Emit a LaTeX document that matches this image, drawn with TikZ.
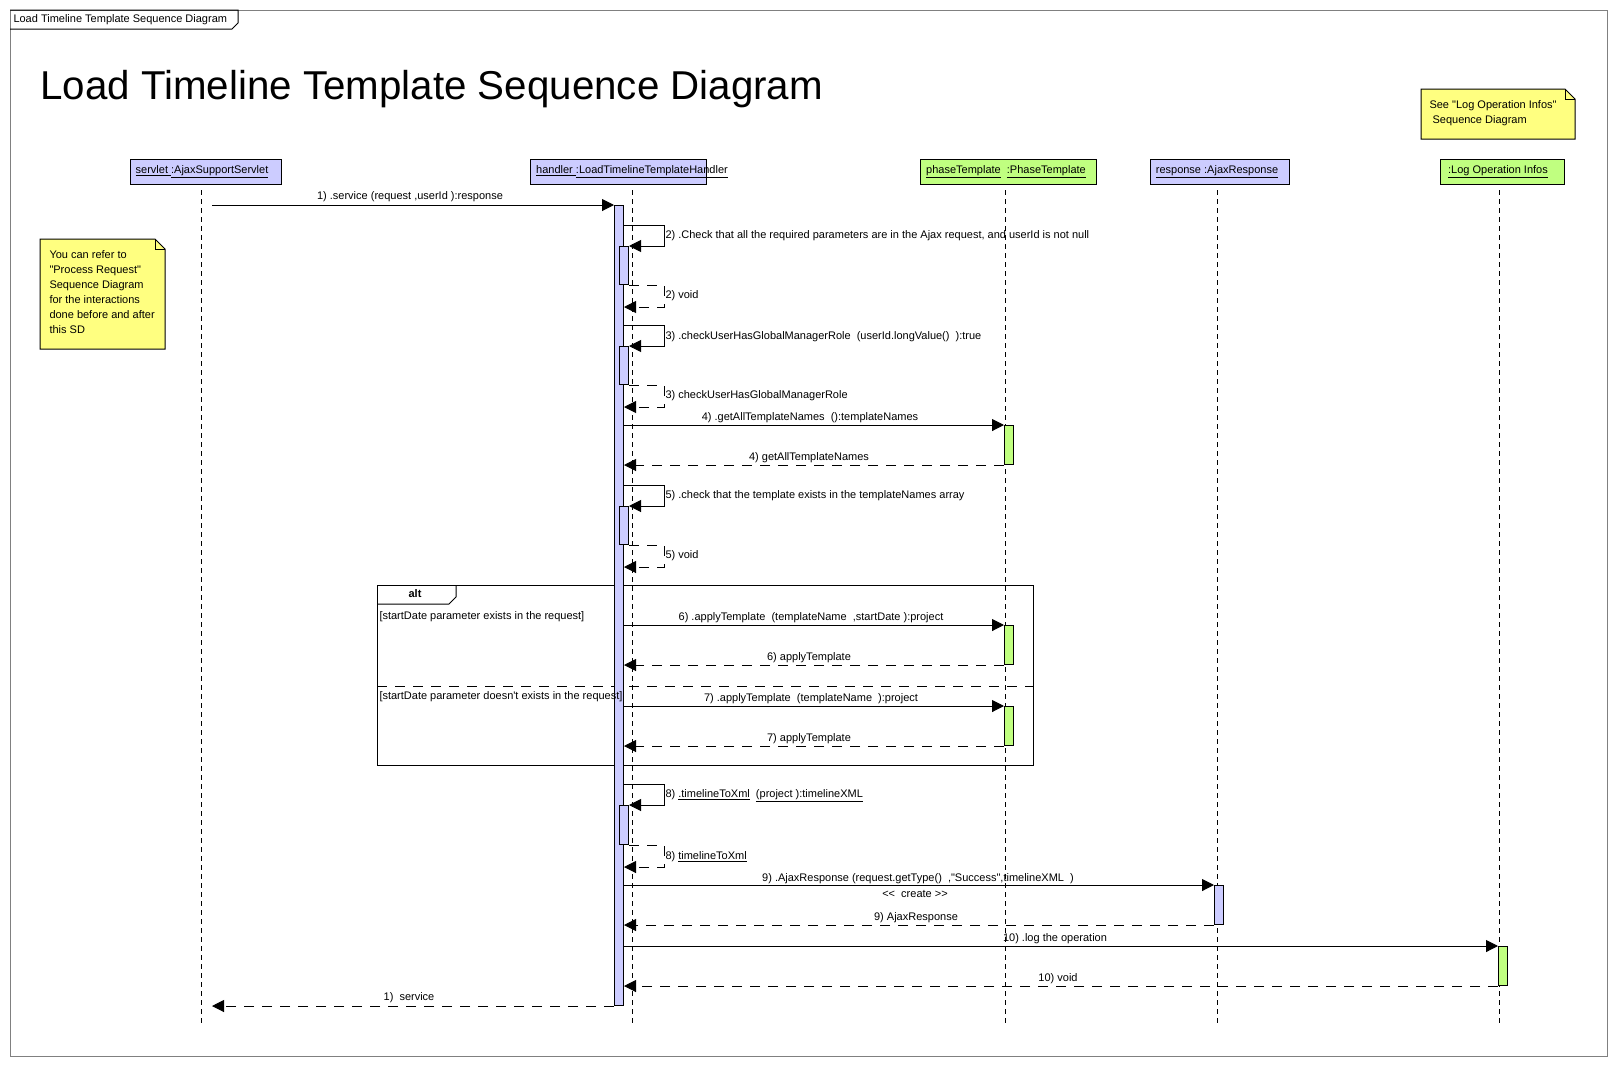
\documentclass[tikz,border=0pt]{standalone}
\usepackage{fontspec}
\newfontfamily\lab{Liberation Sans}
\usetikzlibrary{arrows.meta,calc}
\definecolor{lav}{HTML}{CCCCFF}
\definecolor{lgreen}{HTML}{C0FF80}
\definecolor{noteyel}{HTML}{FFFF80}
\definecolor{framegray}{HTML}{808080}
\begin{document}
\begin{tikzpicture}[x=1pt,y=-1pt,line width=1pt,
  txt/.style={font=\lab\fontsize{11}{13}\selectfont, inner sep=0pt},
  lwest/.style={txt, anchor=west},
  lifeline/.style={draw=black, line width=1pt, dash pattern=on 5pt off 4pt},
  msg/.style={draw=black, line width=1pt, -{Triangle[length=12pt,width=12pt]}},
  ret/.style={msg, dash pattern=on 10pt off 8pt},
  bar/.style={draw=black, line width=1pt, minimum width=9pt, inner sep=0pt, anchor=north west},
  hdr/.style={draw=black, line width=1pt, inner sep=0pt, anchor=north west, minimum height=25pt},
  note/.style={draw=black, fill=noteyel, line width=1pt},
]
\useasboundingbox (0,0) rectangle (1616,1066);
% frame
\draw[framegray] (10,10) rectangle (1607,1056);
\draw[black] (10,10) -- (238,10) -- (238,23) -- (232,29) -- (10,29);
\node[lwest] (frametab) at (13,20) {Load Timeline Template Sequence Diagram};
\node[font=\lab\fontsize{40.3}{46}\selectfont, anchor=base west, inner sep=0pt] (title) at (40,99) {Load Timeline Template Sequence Diagram};

% headers
\node[hdr, fill=lav, minimum width=151pt] (servletbox) at (130,159) {};
\node[hdr, fill=lav, minimum width=176pt] (handlerbox) at (530,159) {};
\node[hdr, fill=lgreen, minimum width=176pt] (phasebox) at (920,159) {};
\node[hdr, fill=lav, minimum width=139pt] (responsebox) at (1150,159) {};
\node[hdr, fill=lgreen, minimum width=124pt] (logbox) at (1440,159) {};
\node[txt] (servletlbl) at (202,172) {\underline{servlet }\underline{:AjaxSupportServlet}};
\node[txt] (handlerlbl) at (632,172) {\underline{handler }\underline{:LoadTimelineTemplateHandler}};
\node[txt] (phaselbl) at (1006,172) {\underline{phaseTemplate}\ \ \underline{:PhaseTemplate}};
\node[txt] (responselbl) at (1217,172) {\underline{response }\underline{:AjaxResponse}};
\node[txt] (loglbl) at (1498,172) {\underline{:Log Operation Infos}};

% lifelines
\coordinate (sT) at (201,190); \coordinate (sB) at (201,1023);
\coordinate (hT) at (632,190); \coordinate (hB) at (632,1023);
\coordinate (pT) at (1005,190); \coordinate (pB) at (1005,1023);
\coordinate (rT) at (1217,190); \coordinate (rB) at (1217,1023);
\coordinate (lT) at (1499,190); \coordinate (lB) at (1499,1023);
\draw[lifeline] (sT) -- (sB);
\draw[lifeline] (hT) -- (hB);
\draw[lifeline] (pT) -- (pB);
\draw[lifeline] (rT) -- (rB);
\draw[lifeline] (lT) -- (lB);

% alt fragment
\draw (377,585) rectangle (1033,765);
\draw (377,604) -- (449,604) -- (456,597) -- (456,585);
\draw[dash pattern=on 10pt off 8pt] (377,686) -- (1033,686);
\node[txt, font=\lab\bfseries\fontsize{11}{13}\selectfont] (altlbl) at (415,594) {alt};

% activation bars
\node[bar, fill=lav, minimum height=800pt] (hb) at (614,205) {};
\node[bar, fill=lav, minimum height=38pt] (n2) at (619,246) {};
\node[bar, fill=lav, minimum height=38pt] (n3) at (619,346) {};
\node[bar, fill=lav, minimum height=38pt] (n5) at (619,506) {};
\node[bar, fill=lav, minimum height=39pt] (n8) at (619,805) {};
\node[bar, fill=lgreen, minimum height=39pt] (p4) at (1004,425) {};
\node[bar, fill=lgreen, minimum height=39pt] (p6) at (1004,625) {};
\node[bar, fill=lgreen, minimum height=39pt] (p7) at (1004,706) {};
\node[bar, fill=lav, minimum height=39pt] (rb) at (1214,885) {};
\node[bar, fill=lgreen, minimum height=39pt] (lb) at (1498,946) {};

% servlet side end points
\coordinate (sv1) at (212,205);
\coordinate (sv2) at (212,1006);

% messages
\draw[msg] (sv1) -- (hb.north west);
\foreach \n in {n2,n3,n5,n8}{
  \draw[msg] ($(hb.east |- \n.north)+(0,-21)$) -- ++(40,0) |- (\n.north east);
  \draw[ret] (\n.south east) -- ++(35,0) |- ($(hb.east |- \n.south)+(0,22)$);
}
\foreach \p in {p4,p6,p7,rb,lb}{
  \draw[msg] (hb.east |- \p.north) -- (\p.north west);
  \draw[ret] (\p.south west) -- (hb.east |- \p.south);
}
\draw[ret] (hb.south west) -- (sv2);

% message labels
\node[txt] (m1) at (410,197) {1) .service (request ,userId ):response};
\node[lwest] (m2) at (665,236) {2) .Check that all the required parameters are in the Ajax request, and userId is not null};
\node[lwest] (r2) at (665,296) {2) void};
\node[lwest] (m3) at (665,337) {3) .checkUserHasGlobalManagerRole \ (userId.longValue() \ ):true};
\node[lwest] (r3) at (665,396) {3) checkUserHasGlobalManagerRole};
\node[txt] (m4) at (810,418) {4) .getAllTemplateNames \ ():templateNames};
\node[txt] (r4) at (809,458) {4) getAllTemplateNames};
\node[lwest] (m5) at (665,496) {5) .check that the template exists in the templateNames array};
\node[lwest] (r5) at (665,556) {5) void};
\node[lwest] (g1) at (379,617) {[startDate parameter exists in the request]};
\node[txt] (m6) at (811,618) {6) .applyTemplate \ (templateName \ ,startDate ):project};
\node[txt] (r6) at (809,658) {6) applyTemplate};
\node[lwest] (g2) at (379,697) {[startDate parameter doesn't exists in the request]};
\node[txt] (m7) at (811,699) {7) .applyTemplate \ (templateName \ ):project};
\node[txt] (r7) at (809,739) {7) applyTemplate};
\node[lwest] (m8) at (665,796) {8) \underline{.timelineToXml}\ \ \underline{(project }\underline{):timelineXML}};
\node[lwest] (r8) at (665,857) {8) \underline{timelineToXml}};
\node[txt] (m9) at (918,879) {9) .AjaxResponse (request.getType() \ ,"Success",timelineXML \ )};
\node[txt] (create) at (915,894) {<\kern0pt< \ create >\kern0pt>};
\node[txt] (r9) at (916,918) {9) AjaxResponse};
\node[txt] (m10) at (1055,939) {10) .log the operation};
\node[txt] (r10) at (1058,979) {10) void};
\node[txt] (r1) at (409,998) {1) \ service};

% notes
\draw[note] (40,239) -- (155,239) -- (165,249) -- (165,349) -- (40,349) -- cycle;
\draw (155,239) -- (155,249) -- (165,249);
\node[txt, font=\lab\fontsize{11}{15}\selectfont, align=left, anchor=north west] (note1) at (49,250)
  {You can refer to\\"Process Request"\\Sequence Diagram\\for the interactions\\done before and after\\this SD};
\draw[note] (1421,89) -- (1565,89) -- (1575,99) -- (1575,139) -- (1421,139) -- cycle;
\draw (1565,89) -- (1565,99) -- (1575,99);
\node[txt, font=\lab\fontsize{11}{15}\selectfont, align=left, anchor=north west] (note2) at (1429,100)
  {See "Log Operation Infos"\\\ Sequence Diagram};
\end{tikzpicture}
\end{document}
